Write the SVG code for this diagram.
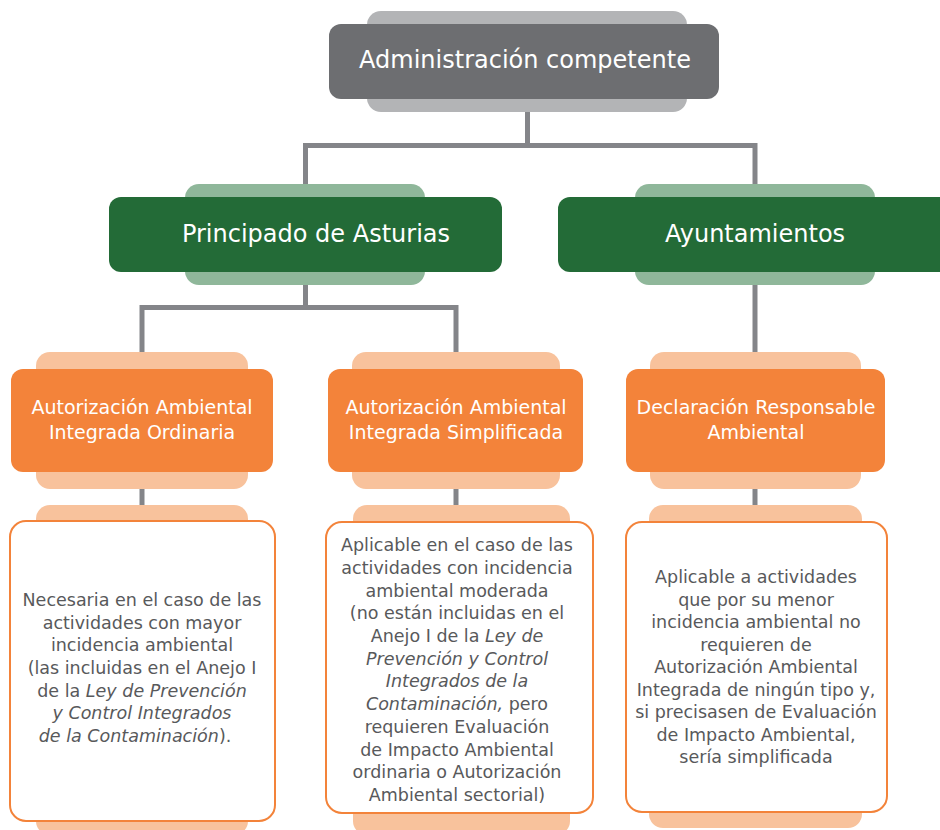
<svg xmlns="http://www.w3.org/2000/svg" width="940" height="830" viewBox="0 0 940 830">
<style>
.t{font-family:"DejaVu Sans","Liberation Sans",sans-serif;text-anchor:middle;}
.h1{font-size:24px;fill:#ffffff;}
.h2{font-size:19px;fill:#ffffff;}
.b{font-size:17.5px;fill:#58595b;}
.i{font-style:italic;}
.gb{fill:#b3b4b6;}
.gf{fill:#6d6e71;}
.eb{fill:#8fb79a;}
.ef{fill:#236b37;}
.ob{fill:#f8c29c;}
.of{fill:#f3833a;}
.wf{fill:#ffffff;stroke:#f3833a;stroke-width:2;}
.c{fill:none;stroke:#848589;stroke-width:5;}
</style>
<rect width="940" height="830" fill="#ffffff"/>
<g id="connectors">
<path class="c" d="M527.5 112 V145.5 M305.5 185 V145.5 H755 V185"/>
<path class="c" d="M305.5 285 V307.5 M142 352 V307.5 H456 V352"/>
<path class="c" d="M755 285 V352"/>
<path class="c" d="M142 489 V506 M456 489 V506 M755 489 V506"/>
</g>
<g id="admin">
<rect class="gb" x="367" y="11" width="320" height="101" rx="14"/>
<rect class="gf" x="329" y="24" width="390" height="75" rx="12"/>
<text class="t h1" x="525" y="68">Administración competente</text>
</g>
<g id="principado">
<rect class="eb" x="185" y="184" width="240" height="101" rx="14"/>
<rect class="ef" x="109" y="197" width="393" height="75" rx="12"/>
<text class="t h1" x="316" y="242">Principado de Asturias</text>
</g>
<g id="ayuntamientos">
<rect class="eb" x="635" y="184" width="240" height="101" rx="14"/>
<rect class="ef" x="558" y="197" width="394" height="75" rx="12"/>
<text class="t h1" x="755" y="242">Ayuntamientos</text>
</g>
<g id="aai-ordinaria">
<rect class="ob" x="36" y="352" width="212" height="137" rx="14"/>
<rect class="of" x="11" y="369" width="262" height="103" rx="12"/>
<text class="t h2" x="142" y="414">Autorización Ambiental</text>
<text class="t h2" x="142" y="439">Integrada Ordinaria</text>
</g>
<g id="aai-simplificada">
<rect class="ob" x="352" y="352" width="208" height="137" rx="14"/>
<rect class="of" x="328" y="369" width="255" height="103" rx="12"/>
<text class="t h2" x="456" y="414">Autorización Ambiental</text>
<text class="t h2" x="456" y="439">Integrada Simplificada</text>
</g>
<g id="declaracion">
<rect class="ob" x="650" y="352" width="211" height="137" rx="14"/>
<rect class="of" x="626" y="369" width="259" height="103" rx="12"/>
<text class="t h2" x="756" y="414">Declaración Responsable</text>
<text class="t h2" x="756" y="439">Ambiental</text>
</g>
<g id="desc-ordinaria">
<rect class="ob" x="36" y="505" width="212" height="330" rx="14"/>
<rect class="wf" x="10" y="521" width="265" height="300" rx="16"/>
<text class="t b" x="142" y="606">Necesaria en el caso de las</text>
<text class="t b" x="142" y="629">actividades con mayor</text>
<text class="t b" x="142" y="651">incidencia ambiental</text>
<text class="t b" x="142" y="674">(las incluidas en el Anejo I</text>
<text class="t b" x="142" y="697">de la <tspan class="i">Ley de Prevención</tspan></text>
<text class="t b i" x="142" y="719">y Control Integrados</text>
<text class="t b" x="135" y="742"><tspan class="i">de la Contaminación</tspan>).</text>
</g>
<g id="desc-simplificada">
<rect class="ob" x="353" y="505" width="217" height="330" rx="14"/>
<rect class="wf" x="326" y="522" width="267" height="291" rx="16"/>
<text class="t b" x="457" y="551">Aplicable en el caso de las</text>
<text class="t b" x="457" y="574">actividades con incidencia</text>
<text class="t b" x="457" y="597">ambiental moderada</text>
<text class="t b" x="457" y="619">(no están incluidas en el</text>
<text class="t b" x="457" y="642">Anejo I de la <tspan class="i">Ley de</tspan></text>
<text class="t b i" x="457" y="665">Prevención y Control</text>
<text class="t b i" x="457" y="687">Integrados de la</text>
<text class="t b" x="457" y="710"><tspan class="i">Contaminación,</tspan> pero</text>
<text class="t b" x="457" y="733">requieren Evaluación</text>
<text class="t b" x="457" y="756">de Impacto Ambiental</text>
<text class="t b" x="457" y="778">ordinaria o Autorización</text>
<text class="t b" x="457" y="801">Ambiental sectorial)</text>
</g>
<g id="desc-declaracion">
<rect class="ob" x="649" y="505" width="213" height="323" rx="14"/>
<rect class="wf" x="626" y="522" width="261" height="290" rx="16"/>
<text class="t b" x="756" y="583">Aplicable a actividades</text>
<text class="t b" x="756" y="606">que por su menor</text>
<text class="t b" x="756" y="628">incidencia ambiental no</text>
<text class="t b" x="756" y="651">requieren de</text>
<text class="t b" x="756" y="673">Autorización Ambiental</text>
<text class="t b" x="756" y="696">Integrada de ningún tipo y,</text>
<text class="t b" x="756" y="718">si precisasen de Evaluación</text>
<text class="t b" x="756" y="741">de Impacto Ambiental,</text>
<text class="t b" x="756" y="763">sería simplificada</text>
</g>
</svg>
